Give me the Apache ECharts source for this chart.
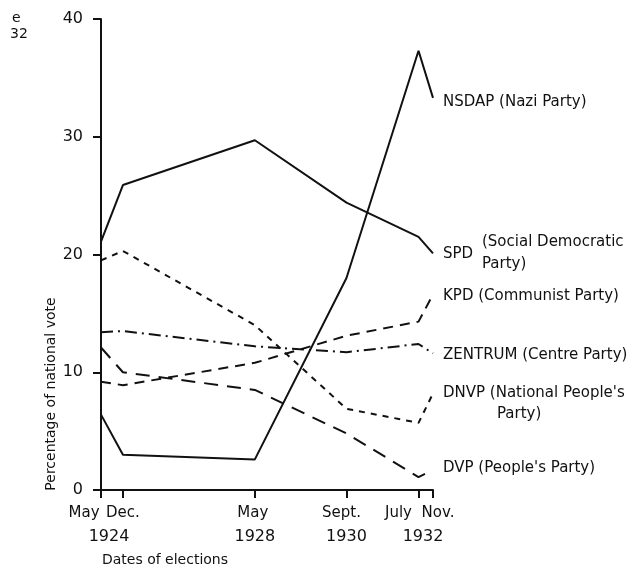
<!DOCTYPE html>
<html>
<head>
<meta charset="utf-8">
<script src="https://cdn.jsdelivr.net/npm/echarts@6/dist/echarts.min.js"></script>
<style>html,body{margin:0;padding:0;background:#fff}#chart{width:638px;height:568px}</style>
</head>
<body>
<div id="chart"></div>
<script>
// ---- data ----
const electionDates = [1924.37, 1924.93, 1928.30, 1930.64, 1932.48, 1932.85]; // decimal years
const monthLabels = ['May', 'Dec.', 'May', 'Sept.', 'July', 'Nov.'];
const yearLabels = ['1924', '', '1928', '1930', '', '1932'];
const yTicks = [0, 10, 20, 30, 40];
const nsdap   = [6.4, 3.0, 2.6, 18.0, 37.3, 33.3];
const spd     = [21.1, 25.9, 29.7, 24.4, 21.5, 20.1];
const kpd     = [9.2, 8.9, 10.8, 13.1, 14.3, 16.6];
const zentrum = [13.4, 13.5, 12.2, 11.7, 12.4, 11.6];
const dnvp    = [19.5, 20.3, 14.0, 6.9, 5.7, 8.2];
const dvp     = [12.1, 10.0, 8.5, 4.8, 1.1, 1.7];
const seriesNames = ['NSDAP', 'SPD', 'KPD', 'ZENTRUM', 'DNVP', 'DVP'];
const endTexts = ['NSDAP (Nazi Party)', 'SPD', 'KPD (Communist Party)', 'ZENTRUM (Centre Party)', "DNVP (National People's", "DVP (People's Party)"];
const endTexts2 = ['', '(Social Democratic\nParty)', '', '', 'Party)', ''];
const yTitle = 'Percentage of national vote';
const xTitle = 'Dates of elections';

// ---- styling / layout ----
const F = 'DejaVu Sans';
const INK = '#111';
const monthShift = [-17, 0, -2, -5, -20, 5];
const yearShift = [8, 0, 0, 0, 0, -10];
function pad(s) { return s >= 0 ? [0, 0, 0, 2 * s] : [0, -2 * s, 0, 0]; }
const rich = {};
electionDates.forEach(function (d, i) {
  rich['m' + i] = {fontFamily: F, fontSize: 15, color: INK, lineHeight: 22, padding: pad(monthShift[i])};
  rich['y' + i] = {fontFamily: F, fontSize: 16, color: INK, lineHeight: 26, padding: pad(yearShift[i])};
});
function idxOf(v) {
  let best = 0;
  electionDates.forEach(function (d, i) { if (Math.abs(d - v) < Math.abs(electionDates[best] - v)) best = i; });
  return best;
}
function dateLabel(v) {
  const i = idxOf(v);
  let t = '{m' + i + '|' + monthLabels[i] + '}';
  if (yearLabels[i]) t += '\n{y' + i + '|' + yearLabels[i] + '}';
  return t;
}

const allValues = [nsdap, spd, kpd, zentrum, dnvp, dvp];
const dashes = ['solid', 'solid', [10, 7], [12, 5, 2, 5], [6, 6], [14, 9]];
const labelDy = [4, 1, 2, 2, 10, -2];

const series = allValues.map(function (vals, k) {
  const s = {
    name: seriesNames[k],
    type: 'line',
    xAxisIndex: 0,
    showSymbol: false,
    symbol: 'none',
    silent: true,
    data: vals.map(function (v, i) { return [electionDates[i], v]; }),
    lineStyle: {color: INK, width: 2, type: dashes[k]},
    itemStyle: {color: INK},
    endLabel: {
      show: true,
      distance: 10,
      offset: [0, labelDy[k]],
      color: INK,
      fontFamily: F,
      fontSize: 15,
      formatter: function () {
        if (k === 4) return endTexts[k] + '\n{p|' + endTexts2[k] + '}';
        return endTexts[k];
      },
      lineHeight: 21,
      rich: {p: {fontFamily: F, fontSize: 15, color: INK, lineHeight: 21, padding: [0, 0, 0, 54]}}
    }
  };
  if (k === 1) {
    s.markPoint = {
      symbol: 'circle', symbolSize: 0, silent: true, animation: false,
      data: [{coord: [electionDates[5], spd[5]]}],
      label: {
        show: true, position: 'right', distance: 49, offset: [0, 0],
        color: INK, fontFamily: F, fontSize: 15, lineHeight: 22,
        formatter: endTexts2[1]
      }
    };
  }
  return s;
});

// labels split over two overlaid axes so neighbouring labels never collide
const labelSetA = electionDates.filter(function (d, i) { return i % 2 === 0; });
const labelSetB = electionDates.filter(function (d, i) { return i % 2 === 1; });
function labelAxis(vals) {
  return {
    type: 'value', gridIndex: 0, position: 'bottom', offset: 0,
    min: electionDates[0], max: electionDates[electionDates.length - 1],
    splitLine: {show: false}, axisLine: {show: false}, axisTick: {show: false},
    axisLabel: {
      show: true, customValues: vals, showMinLabel: true, showMaxLabel: true, hideOverlap: false,
      margin: 12, verticalAlign: 'top', formatter: dateLabel, rich: rich
    }
  };
}

const chart = echarts.init(document.getElementById('chart'), null, {renderer: 'canvas', width: 638, height: 568});
chart.setOption({
  animation: false,
  backgroundColor: '#fff',
  grid: {left: 101, right: 205, top: 19, bottom: 78, containLabel: false, outerBoundsMode: 'none'},
  xAxis: [
    {
      type: 'value', gridIndex: 0, position: 'bottom', offset: 0,
      min: electionDates[0],
      max: electionDates[electionDates.length - 1],
      splitLine: {show: false},
      axisLine: {show: true, onZero: false, lineStyle: {color: INK, width: 2}},
      axisTick: {show: true, customValues: electionDates, length: 8, lineStyle: {color: INK, width: 2}},
      axisLabel: {show: false}
    },
    labelAxis(labelSetA),
    labelAxis(labelSetB)
  ],
  yAxis: {
    type: 'value',
    min: yTicks[0],
    max: yTicks[yTicks.length - 1],
    interval: 10,
    splitLine: {show: false},
    axisLine: {show: true, lineStyle: {color: INK, width: 2}},
    axisTick: {show: true, length: 8, lineStyle: {color: INK, width: 2}},
    axisLabel: {margin: 18, color: INK, fontFamily: F, fontSize: 16, showMinLabel: true, showMaxLabel: true}
  },
  graphic: [
    {type: 'text', x: 12, y: 11, style: {text: 'e', font: '14px "' + F + '"', fill: INK}},
    {type: 'text', x: 10, y: 27, style: {text: '32', font: '14px "' + F + '"', fill: INK}},
    {type: 'text', x: 51, y: 394, rotation: Math.PI / 2,
     style: {text: yTitle, font: '14px "' + F + '"', fill: INK, align: 'center', verticalAlign: 'middle'}},
    {type: 'text', x: 165, y: 560,
     style: {text: xTitle, font: '14px "' + F + '"', fill: INK, align: 'center', verticalAlign: 'middle'}}
  ],
  series: series
});
</script>
</body>
</html>
